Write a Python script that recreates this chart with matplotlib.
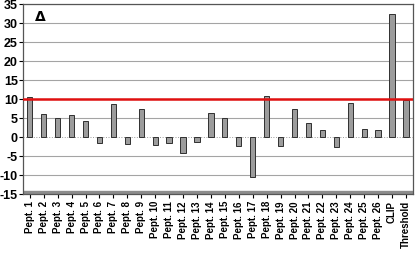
import matplotlib.pyplot as plt
import numpy as np

plt.rcParams['font.family'] = ['Liberation Sans', 'DejaVu Sans']

labels = ["Pept. %d" % i for i in range(1, 27)] + ["CLIP", "Threshold"]
values = [10.5, 6.1, 5.0, 5.9, 4.1, -1.5, 8.8, -1.8, 7.4, -2.0, -1.5, -4.3,
          -1.3, 6.2, 5.0, -2.4, -10.6, 10.7, -2.4, 7.4, 3.8, 1.9, -2.6, 8.9,
          2.2, 1.8, 32.3, 9.8]
threshold = 10

fig = plt.figure(figsize=(4.15, 2.54), dpi=100)
ax = fig.add_axes([0.055, 0.236, 0.94, 0.748])

x = np.arange(len(labels))
ax.set_xlim(-0.5, len(labels) - 0.5)
ax.set_ylim(-15, 35)

# gridlines
for g in range(-10, 36, 5):
    if g == 0:
        ax.axhline(g, color='#999999', lw=0.7, ls=':', zorder=1)
    else:
        ax.axhline(g, color='#a4a4a4', lw=0.8, zorder=1)
ax.axhspan(-15, -14.2, color='#8c8c8c', zorder=1)

ax.bar(x, values, width=0.38, color='#9c9c9c', edgecolor='#303030', lw=0.7, zorder=3)
ax.axhline(threshold, color='#e01010', lw=1.8, zorder=4)

ax.text(0.03, 0.97, "Δ", transform=ax.transAxes, ha='left', va='top',
        fontsize=10, fontweight='bold', family=['DejaVu Sans'])

ax.set_yticks(range(-15, 36, 5))
ax.set_yticklabels([str(v) for v in range(-15, 36, 5)], fontsize=9, fontweight='bold')
ax.set_xticks(x)
ax.set_xticklabels(labels, rotation=90, fontsize=7, fontweight='bold')
ax.tick_params(axis='y', length=3, width=0.8, pad=0.5)
ax.tick_params(axis='x', length=3, width=0.8, pad=2)
for s in ax.spines.values():
    s.set_color('#555555')
    s.set_linewidth(0.9)

fig.savefig("out.png", dpi=100)
